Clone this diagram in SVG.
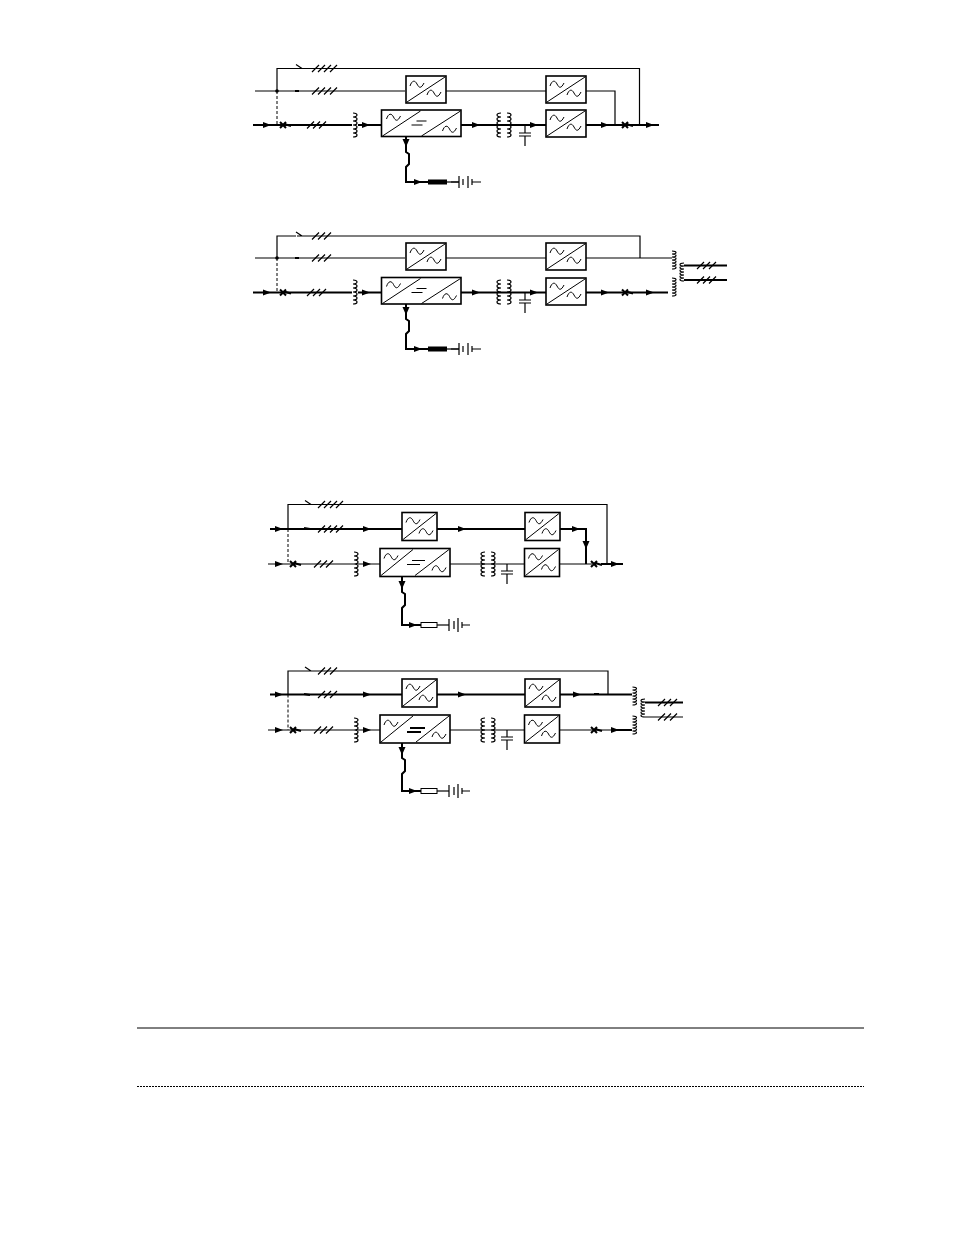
<svg xmlns="http://www.w3.org/2000/svg" xmlns:xlink="http://www.w3.org/1999/xlink" width="954" height="1235" viewBox="0 0 954 1235">
<style>
.t{fill:none;stroke:#000;stroke-width:1.2}
.k{fill:none;stroke:#000;stroke-width:2}
.d{fill:none;stroke:#000;stroke-width:1;stroke-dasharray:3 2}
.bx{fill:#fff;stroke:#000;stroke-width:1.6}
.thin{fill:none;stroke:#000;stroke-width:1}
</style>
<defs>
<polygon id="ah" points="-4,-3 4,0 -4,3" fill="#000"/>
<polygon id="ahd" points="-3.5,-4 3.5,-4 0,4" fill="#000"/>
<path id="sn" d="M-7,2 C-5,-4 -2,-4 0,0 S4,5 7,-1" class="thin"/>
<g id="acA"><rect width="40" height="27" class="bx"/><path d="M1,26 L39,1" class="thin"/><use href="#sn" x="11" y="8"/><use href="#sn" x="28" y="17"/></g>
<g id="acB"><rect width="35" height="28" class="bx"/><path d="M1,27 L34,1" class="thin"/><use href="#sn" x="11" y="8"/><use href="#sn" x="24" y="19"/></g>
<g id="adA"><rect width="79.500" height="26.500" class="bx"/><path d="M1,26 L39,1 M40,26 L79,1" class="thin"/><use href="#sn" x="12" y="7"/><use href="#sn" x="68" y="19"/><path d="M35,11 H45 M30,15 H41" class="thin"/></g>
<g id="adB"><rect width="70" height="28" class="bx"/><path d="M1,27 L33,1 M35,27 L69,1" class="thin"/><use href="#sn" x="11" y="8"/><use href="#sn" x="59" y="20"/><path d="M32,12 H45 M27,16 H40" class="thin"/></g>
<g id="adC"><rect width="70" height="28" class="bx"/><path d="M1,27 L33,1 M36,27 L69,1" class="thin"/><use href="#sn" x="11" y="8"/><use href="#sn" x="59" y="20"/><path d="M30,13 H45 M27,17 H41" class="k"/></g>
<path id="coil" d="M0,0 a4,2 0 0 1 0,4 a4,2 0 0 1 0,4 a4,2 0 0 1 0,4 a4,2 0 0 1 0,4 a4,2 0 0 1 0,4 a4,2 0 0 1 0,4" class="t"/>
<path id="coilS" d="M0,0 a4,1.500 0 0 1 0,3 a4,1.500 0 0 1 0,3 a4,1.500 0 0 1 0,3 a4,1.500 0 0 1 0,3 a4,1.500 0 0 1 0,3 a4,1.500 0 0 1 0,3" class="t"/>
<path id="slash4" d="M0,3.500 L7,-3.500 M6,3.500 L13,-3.500 M12,3.500 L19,-3.500 M18,3.500 L25,-3.500" class="t"/>
<path id="slash3" d="M0,3.500 L7,-3.500 M6,3.500 L13,-3.500 M12,3.500 L19,-3.500" class="t"/>
<path id="brk" d="M-3,-3 L3,3 M-3,3 L3,-3 M1,-1 L8,1" class="k" stroke-width="1.800"/>
<path id="cap" d="M-6,0 H6 M-6,3 H6 M0,3 V13" class="t"/>
<path id="bat" d="M0,-6 V6 M4,-3 V3 M9,-6 V6 M13,-3 V3 M13,0 H22 M0,0 H-8" class="t"/>
<path id="batB" d="M0,-6 V6 M5,-4 V4 M9,-7 V7 M13,-3 V3 M13,0 H21" class="t" stroke-width="1.800"/>
<rect id="fuseK" x="0" y="-2.500" width="19" height="5" fill="#000"/>
<rect id="fuseO" x="0" y="-2.500" width="16" height="5" fill="#fff" stroke="#000" stroke-width="1"/>
</defs>

<g id="connectors">
<!-- Diagram 1 -->
<path class="t" d="M297,68.500 H639.500 V125 M296,68.500 L302,68.500 M277,91 V68.500 H296 M296,64.500 L302,68.500"/>
<path class="t" d="M255,91 H405 M446,91 H546 M586,91 H615 V125"/>
<path class="d" d="M277,91 V125"/>
<path class="k" d="M253,125 H352 M358,125 H381 M461,125 H546 M586,125 H659"/>
<path class="k" d="M406,137 V152 L409,154 V164 L406,167 V182 H428"/>
<path class="t" d="M447,182 H459"/>
<!-- Diagram 2 -->
<path class="t" d="M297,236 H640 V258 M277,258 V236 H296 M296,232 L302,236"/>
<path class="t" d="M255,258 H405 M446,258 H672"/>
<path class="d" d="M277,258 V292.500"/>
<path class="k" d="M253,292.500 H352 M358,292.500 H381 M461,292.500 H546 M586,292.500 H668"/>
<path class="k" d="M406,304 V319 L409,321 V331 L406,334 V349 H428"/>
<path class="t" d="M447,349 H459"/>
<path class="k" d="M684,265.500 H727 M684,280 H727"/>
<!-- Diagram 3 -->
<path class="t" d="M305,504.500 H607 V564 M288,529 V504.500 H305 M305,500.500 L311,504.500"/>
<path class="k" d="M270,529 H402 M437,529 H525 M560,529 H586 V564"/>
<path class="d" d="M288,529 V564"/>
<path class="t" d="M268,564 H354 M358,564 H380 M450,564 H525 M559,564 H592"/>
<path class="k" d="M601,564 H623"/>
<path class="k" d="M402,577 V592 L405,594 V605 L402,608 V625 H421"/>
<path class="t" d="M437,625 H449"/>
<!-- Diagram 4 -->
<path class="t" d="M305,671 H608 V694.500 M288,694.500 V671 H305 M305,667 L311,671"/>
<path class="k" d="M270,694.500 H402 M437,694.500 H525 M560,694.500 H632"/>
<path class="d" d="M288,694.500 V730"/>
<path class="t" d="M268,730 H354 M358,730 H380 M450,730 H525 M560,730 H613"/>
<path class="k" d="M613,730 H632"/>
<path class="k" d="M402,743 V758 L405,760 V771 L402,774 V791 H421"/>
<path class="t" d="M437,791 H449"/>
<path class="k" d="M645,702.500 H683"/>
<path class="t" d="M645,717 H683"/>
<!-- Arrowheads, breakers and slashes on the lines -->
<g id="marks">
<use href="#ah" x="267" y="125"/><use href="#ah" x="366" y="125"/><use href="#ah" x="476" y="125"/><use href="#ah" x="534" y="125"/><use href="#ah" x="605" y="125"/><use href="#ah" x="650" y="125"/><use href="#ahd" x="406" y="143"/><use href="#ah" x="418" y="182"/>
<use href="#brk" x="283" y="125"/><use href="#brk" x="625" y="125"/>
<use href="#slash4" x="312" y="68.500"/><use href="#slash4" x="312" y="91"/><use href="#slash3" x="307" y="125"/>
<circle cx="277" cy="91" r="1.800"/><path class="k" d="M295,91 H299"/>
<use href="#ah" x="267" y="292.500"/><use href="#ah" x="366" y="292.500"/><use href="#ah" x="476" y="292.500"/><use href="#ah" x="534" y="292.500"/><use href="#ah" x="605" y="292.500"/><use href="#ah" x="650" y="292.500"/><use href="#ahd" x="406" y="311"/><use href="#ah" x="418" y="349"/>
<use href="#brk" x="283" y="292.500"/><use href="#brk" x="625" y="292.500"/>
<use href="#slash3" x="312" y="236"/><use href="#slash3" x="312" y="258"/><use href="#slash3" x="307" y="292.500"/><use href="#slash3" x="697" y="265.500"/><use href="#slash3" x="697" y="280"/>
<circle cx="277" cy="258" r="1.800"/><path class="k" d="M295,258 H299"/>
<use href="#ah" x="279" y="529"/><use href="#ah" x="367" y="529"/><use href="#ah" x="462" y="529"/><use href="#ah" x="576" y="529"/><use href="#ahd" x="586" y="545"/><use href="#ah" x="279" y="564"/><use href="#ah" x="367" y="564"/><use href="#ah" x="615" y="564"/><use href="#ahd" x="402" y="585"/><use href="#ah" x="413" y="625"/>
<use href="#brk" x="293" y="564"/><use href="#brk" x="594" y="564"/>
<use href="#slash4" x="318" y="504.500"/><use href="#slash4" x="318" y="529"/><use href="#slash3" x="314" y="564"/><path class="k" d="M304,528 L310,529"/>
<use href="#ah" x="279" y="694.500"/><use href="#ah" x="367" y="694.500"/><use href="#ah" x="577" y="694.500"/><use href="#ah" x="462" y="694.500"/><use href="#ah" x="279" y="730"/><use href="#ah" x="367" y="730"/><use href="#ah" x="615" y="730"/><use href="#ahd" x="402" y="751"/><use href="#ah" x="413" y="791"/>
<use href="#brk" x="293" y="730"/><use href="#brk" x="594" y="730"/>
<use href="#slash3" x="318" y="671"/><use href="#slash3" x="318" y="694.500"/><use href="#slash3" x="314" y="730"/><use href="#slash3" x="658" y="702.500"/><use href="#slash3" x="658" y="717"/><path class="k" d="M304,694 L310,695 M594,694 H599"/>
</g>
</g>

<g id="d1-bypass-converter"><use href="#acA" x="406" y="76"/></g>
<g id="d1-bypass-inverter"><use href="#acA" x="546" y="76"/></g>
<g id="d1-rectifier"><use href="#adA" x="381.500" y="110"/></g>
<g id="d1-output-converter"><use href="#acA" x="546" y="110"/></g>
<g id="d1-input-coil"><use href="#coil" x="353" y="113"/></g>
<g id="d1-transformer"><use href="#coil" transform="translate(501,113) scale(-1,1)"/><use href="#coil" x="507" y="113"/></g>
<g id="d1-capacitor"><path class="t" d="M525,125 V133"/><use href="#cap" x="525" y="133"/></g>
<g id="d1-fuse"><use href="#fuseK" x="428" y="182"/></g>
<g id="d1-battery"><use href="#bat" x="459" y="182"/></g>

<g id="d2-bypass-converter"><use href="#acA" x="406" y="243"/></g>
<g id="d2-bypass-inverter"><use href="#acA" x="546" y="243"/></g>
<g id="d2-rectifier"><use href="#adA" x="381.500" y="277.500"/></g>
<g id="d2-output-converter"><use href="#acA" x="546" y="278"/></g>
<g id="d2-input-coil"><use href="#coil" x="353" y="280"/></g>
<g id="d2-transformer"><use href="#coil" transform="translate(501,280) scale(-1,1)"/><use href="#coil" x="507" y="280"/></g>
<g id="d2-capacitor"><path class="t" d="M525,292.500 V300"/><use href="#cap" x="525" y="300"/></g>
<g id="d2-fuse"><use href="#fuseK" x="428" y="349"/></g>
<g id="d2-battery"><use href="#bat" x="459" y="349"/></g>
<g id="d2-output-transformer"><use href="#coilS" x="672" y="251"/><use href="#coilS" x="672" y="278"/><use href="#coilS" transform="translate(684,263) scale(-1,1)"/></g>

<g id="d3-bypass-converter"><use href="#acB" x="402" y="512.500"/></g>
<g id="d3-bypass-inverter"><use href="#acB" x="525" y="512.500"/></g>
<g id="d3-rectifier"><use href="#adB" x="380" y="548.500"/></g>
<g id="d3-output-converter"><use href="#acB" x="524.500" y="548.500"/></g>
<g id="d3-input-coil"><use href="#coil" x="354" y="552"/></g>
<g id="d3-transformer"><use href="#coil" transform="translate(485,552) scale(-1,1)"/><use href="#coil" x="491" y="552"/></g>
<g id="d3-capacitor"><path class="t" d="M507,564 V571"/><use href="#cap" x="507" y="571"/></g>
<g id="d3-fuse"><use href="#fuseO" x="421" y="625"/></g>
<g id="d3-battery"><use href="#batB" x="449" y="625"/></g>

<g id="d4-bypass-converter"><use href="#acB" x="402" y="679"/></g>
<g id="d4-bypass-inverter"><use href="#acB" x="525" y="679"/></g>
<g id="d4-rectifier"><use href="#adC" x="380" y="715"/></g>
<g id="d4-output-converter"><use href="#acB" x="524.500" y="715"/></g>
<g id="d4-input-coil"><use href="#coil" x="354" y="718"/></g>
<g id="d4-transformer"><use href="#coil" transform="translate(485,718) scale(-1,1)"/><use href="#coil" x="491" y="718"/></g>
<g id="d4-capacitor"><path class="t" d="M507,730 V737"/><use href="#cap" x="507" y="737"/></g>
<g id="d4-fuse"><use href="#fuseO" x="421" y="791"/></g>
<g id="d4-battery"><use href="#batB" x="449" y="791"/></g>
<g id="d4-output-transformer"><use href="#coilS" x="632.500" y="687"/><use href="#coilS" x="632.500" y="716"/><use href="#coilS" transform="translate(645,699) scale(-1,1)"/></g>

<g id="rules">
<path d="M137,1028 H864" fill="none" stroke="#000" stroke-width="1"/>
<path d="M137,1086.500 H864" fill="none" stroke="#000" stroke-width="1" stroke-dasharray="2 1"/>
</g>
</svg>
